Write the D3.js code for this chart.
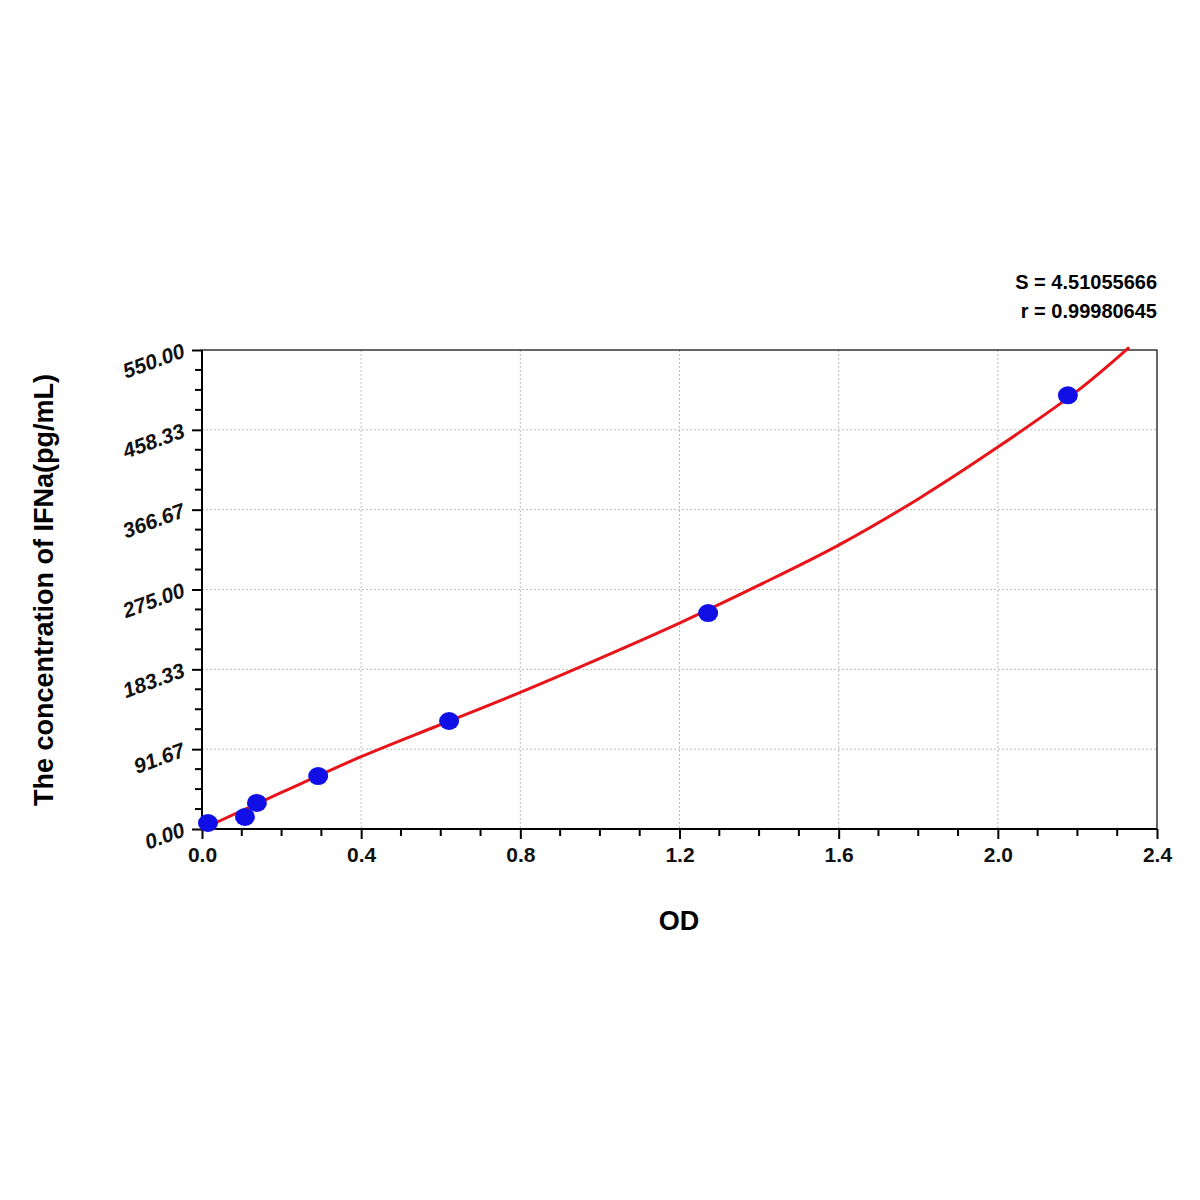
<!DOCTYPE html>
<html><head><meta charset="utf-8">
<script src="https://cdn.jsdelivr.net/npm/d3@7"></script>
<style>body{margin:0;background:#fff}</style></head>
<body><svg id="c" width="1200" height="1200"></svg>
<script>
const pointsX = [0.015, 0.108, 0.138, 0.292, 0.621, 1.272, 2.176];
const pointsY = [6.9, 13.8, 29.9, 60.8, 124, 248, 498];
const curveX = [0.0, 0.2, 0.4, 0.6, 0.8, 1.0, 1.2, 1.4, 1.6, 1.8, 2.0, 2.2, 2.33];
const curveY = [0, 42, 83, 120, 157, 196, 236.5, 280, 326, 379, 438.5, 503, 553];
const xTicks = [0.0, 0.4, 0.8, 1.2, 1.6, 2.0, 2.4];
const yTicks = [0, 91.67, 183.33, 275, 366.67, 458.33, 550];
const stats = ["S = 4.51055666", "r = 0.99980645"];

const svg = d3.select("#c");
const L = 202, R = 1157, T = 350, B = 829;
const x = d3.scaleLinear().domain([0, 2.4]).range([L, R]);
const y = d3.scaleLinear().domain([0, 550]).range([B, T]);
const font = "Arial, 'Liberation Sans', sans-serif";

const g = svg.append("g");
g.selectAll(".gx").data(xTicks.slice(1, -1)).join("line")
  .attr("x1", d => x(d)).attr("x2", d => x(d)).attr("y1", T).attr("y2", B)
  .attr("stroke", "#bbb").attr("stroke-dasharray", "2,2");
g.selectAll(".gy").data(yTicks.slice(1, -1)).join("line")
  .attr("y1", d => y(d)).attr("y2", d => y(d)).attr("x1", L).attr("x2", R)
  .attr("stroke", "#bbb").attr("stroke-dasharray", "2,2");
g.append("rect").attr("x", L).attr("y", T).attr("width", R - L).attr("height", B - T)
  .attr("fill", "none").attr("stroke", "#000").attr("stroke-width", 1.2);
g.append("line").attr("x1", L).attr("x2", L).attr("y1", T).attr("y2", B).attr("stroke", "#000").attr("stroke-width", 2);
g.append("line").attr("x1", L).attr("x2", R).attr("y1", B).attr("y2", B).attr("stroke", "#000").attr("stroke-width", 2);

const xa = svg.append("g").attr("transform", `translate(0,${B})`)
  .call(d3.axisBottom(x).tickValues(xTicks).tickFormat(d3.format(".1f")).tickSize(10).tickPadding(8));
xa.select(".domain").remove();
xa.selectAll("text").attr("font-family", font).attr("font-weight", "bold").attr("font-size", 21).attr("fill", "#111");
xa.selectAll("line").attr("stroke-width", 2);
const xMinor = d3.range(1, 24).map(i => i / 10).filter(v => Math.abs(v * 10 % 4) > 0.01);
svg.selectAll(".xm").data(xMinor).join("line")
  .attr("x1", d => x(d)).attr("x2", d => x(d)).attr("y1", B).attr("y2", B + 7)
  .attr("stroke", "#000").attr("stroke-width", 2);

const ya = svg.append("g").attr("transform", `translate(${L},0)`)
  .call(d3.axisLeft(y).tickValues(yTicks).tickFormat(d3.format(".2f")).tickSize(10).tickPadding(8));
ya.select(".domain").remove();
ya.selectAll("line").attr("stroke-width", 2);
ya.selectAll("text").attr("font-family", font).attr("font-weight", "bold").attr("font-size", 21)
  .attr("fill", "#111").attr("font-style", "italic")
  .attr("transform", "rotate(-20, -18, 0)");
const yMinor = [];
for (let i = 0; i < 6; i++) for (let j = 1; j < 4; j++) yMinor.push(550 / 6 * (i + j / 4));
svg.selectAll(".ym").data(yMinor).join("line")
  .attr("x1", L - 7).attr("x2", L).attr("y1", d => y(d)).attr("y2", d => y(d))
  .attr("stroke", "#000").attr("stroke-width", 2);

const line = d3.line().x(d => x(d[0])).y(d => y(d[1])).curve(d3.curveCatmullRom);
svg.append("path").datum(curveX.map((v, i) => [v, curveY[i]]))
  .attr("d", line).attr("fill", "none").attr("stroke", "#e8141a").attr("stroke-width", 3);

svg.selectAll(".pt").data(pointsX.map((v, i) => [v, pointsY[i]])).join("ellipse")
  .attr("cx", d => x(d[0])).attr("cy", d => y(d[1])).attr("rx", 10).attr("ry", 9).attr("fill", "#1010e6");

svg.append("text").attr("x", 679).attr("y", 930).attr("text-anchor", "middle")
  .attr("font-family", font).attr("font-weight", "bold").attr("font-size", 27).text("OD");
svg.append("text").attr("transform", "translate(53,590) rotate(-90)").attr("text-anchor", "middle")
  .attr("font-family", font).attr("font-weight", "bold").attr("font-size", 27)
  .text("The concentration of IFNa(pg/mL)");
svg.selectAll(".st").data(stats).join("text")
  .attr("x", 1157).attr("y", (d, i) => 289 + i * 29).attr("text-anchor", "end")
  .attr("font-family", font).attr("font-weight", "bold").attr("font-size", 20).text(d => d);
</script></body></html>
